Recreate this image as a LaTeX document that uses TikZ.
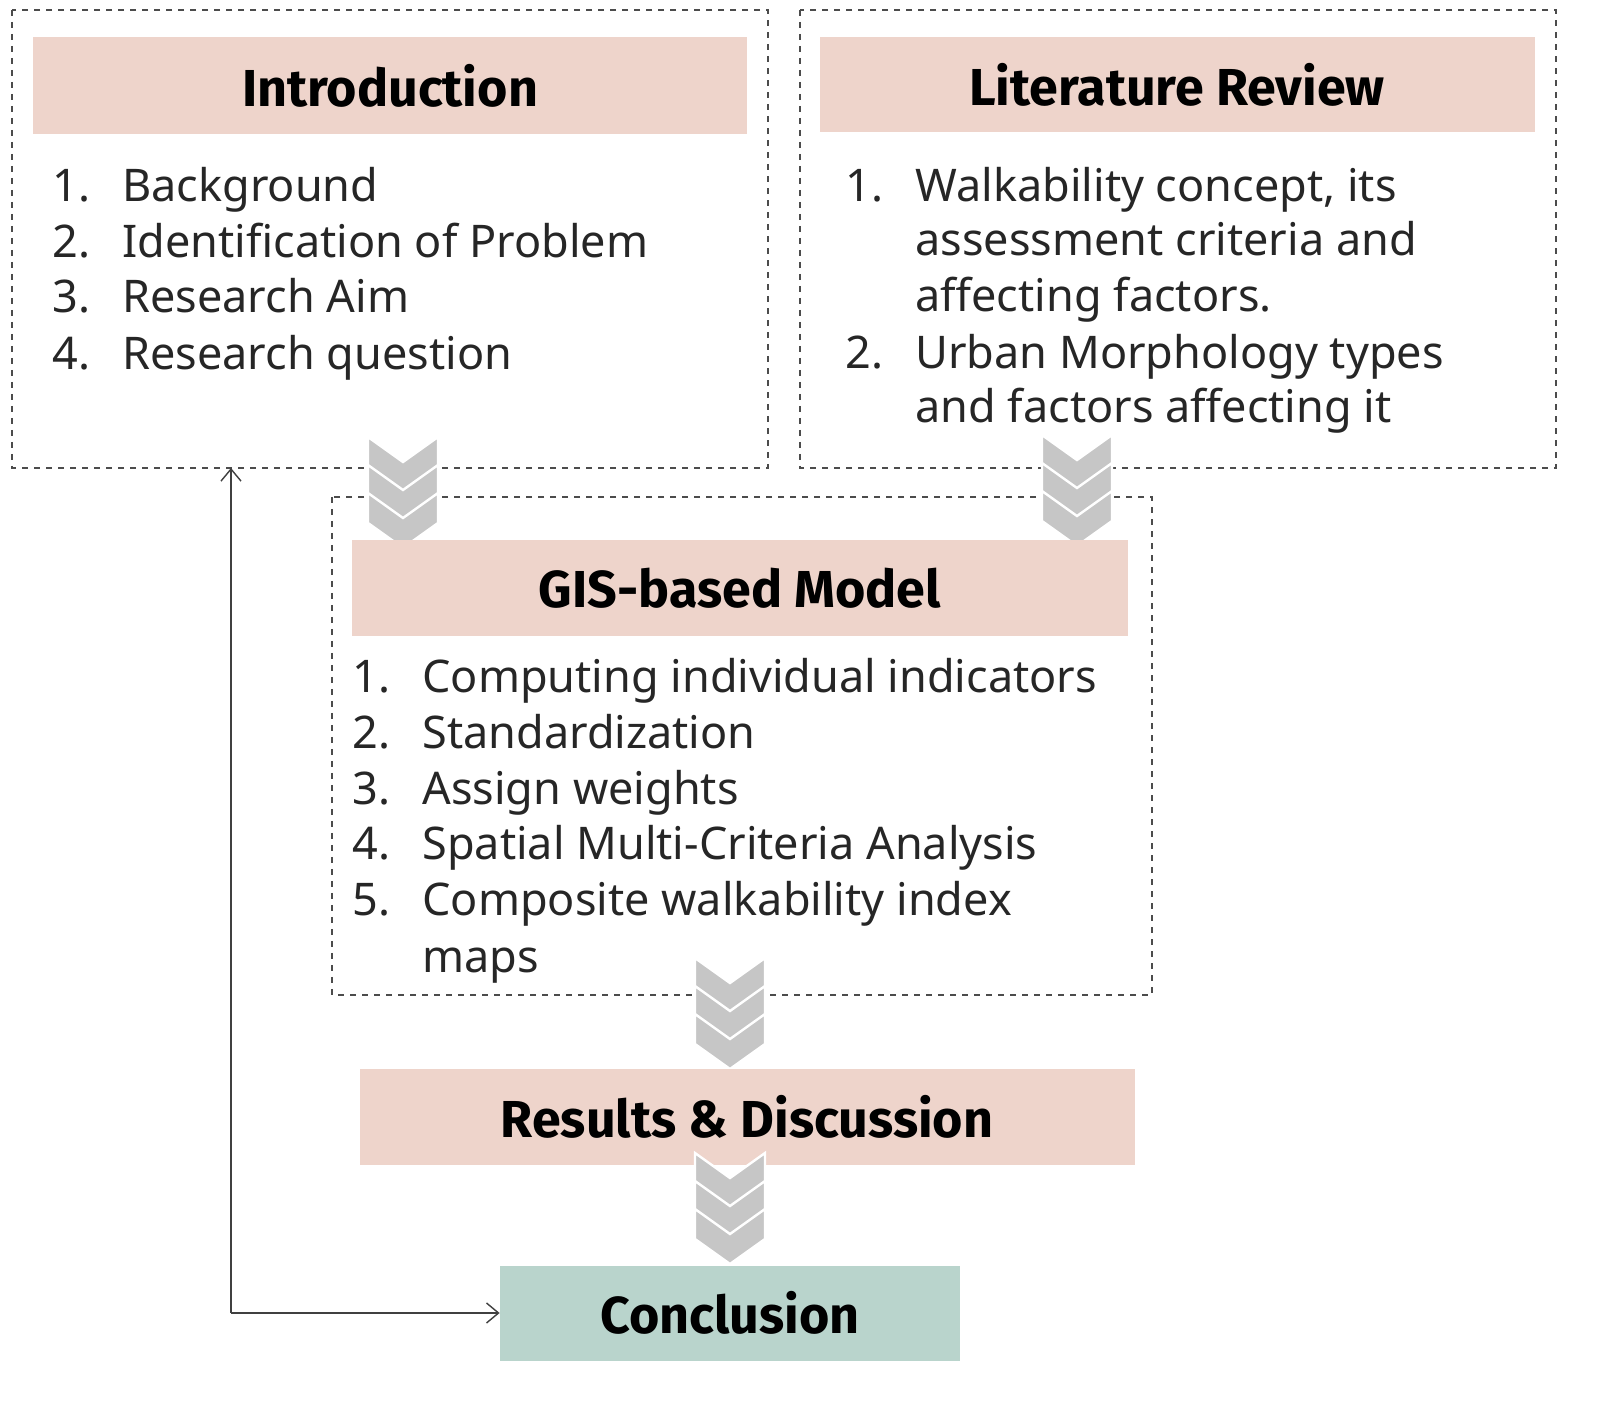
\documentclass[tikz,border=0pt]{standalone}
\usepackage{fontspec}
\setmainfont{Noto Sans}
\newfontfamily\headfont{Fira Sans}
\usetikzlibrary{arrows.meta}
\begin{document}
\begin{tikzpicture}[x=0.5pt,y=-0.5pt,
  box/.style={draw=black!70,dashed,line width=0.6pt},
  head/.style={fill=pinkh,draw=none,font=\headfont\fontsize{26}{30}\selectfont\bfseries},
  item/.style={anchor=base west,inner sep=0pt,font=\fontsize{22.5}{26}\selectfont,text=black!85},
  chev/.style={fill=gray!45,draw=white,line width=1.2pt},
  arr/.style={draw=black!75,line width=0.7pt,-{Straight Barb[length=6pt,width=10pt]}}]
\definecolor{pinkh}{RGB}{238,212,203}
\definecolor{teal}{RGB}{185,212,204}
% boxes
\draw[box] (12,10) rectangle (768,468);
\draw[box] (800,10) rectangle (1556,468);
\draw[box] (332,497) rectangle (1152,995);
% headers
\node[head,minimum width=357pt,minimum height=48.5pt] (intro) at (390,86) {Introduction};
\node[head,minimum width=357.5pt,minimum height=47.5pt] (lit) at (1177,85) {Literature Review};
\newcommand{\chevs}[2]{%
  \foreach \k in {0,1,2}{
    \filldraw[chev] ({#1-35},{#2+28*\k}) -- ({#1},{#2+28*\k+25}) -- ({#1+35},{#2+28*\k}) -- ({#1+35},{#2+28*\k+30}) -- ({#1},{#2+28*\k+55}) -- ({#1-35},{#2+28*\k+30}) -- cycle;}}
\chevs{403}{437}
\chevs{1077}{435}
\node[head,minimum width=388pt,minimum height=48pt] (gis) at (740,588) {GIS-based Model};
\chevs{730}{958}
\node[head,minimum width=387.5pt,minimum height=47.5pt] (res) at (747,1117) {Results \& Discussion};
\chevs{730}{1153}
\node[head,fill=teal,minimum width=230pt,minimum height=47.5pt] (conc) at (730,1313) {Conclusion};
% lists
\foreach \n/\t/\y in {1./Background/187,2./Identification of Problem/243,3./Research Aim/298,4./Research question/355}{
  \node[item] at (52,\y+15) {\n}; \node[item] at (122,\y+15) {\t};}
\foreach \n/\t/\y in {1./Walkability concept{,} its/187,/assessment criteria and/241,/affecting factors./297,2./Urban Morphology types/354,/and factors affecting it/408}{
  \node[item] at (845,\y+15) {\n}; \node[item] at (915,\y+15) {\t};}
\foreach \n/\t/\y in {1./Computing individual indicators/678,2./Standardization/734,3./Assign weights/790,4./Spatial Multi-Criteria Analysis/845,5./Composite walkability index/901,/maps/957}{
  \node[item] at (352,\y+15) {\n}; \node[item] at (422,\y+15) {\t};}
% feedback arrows
\coordinate (corner) at (231,1313);
\coordinate (introb) at (231,468);
\draw[arr] (corner) -- (conc.west);
\draw[arr] (corner) -- (introb);
\pgfresetboundingbox
\useasboundingbox (0,0) rectangle (1603,1406);
\end{tikzpicture}
\end{document}
